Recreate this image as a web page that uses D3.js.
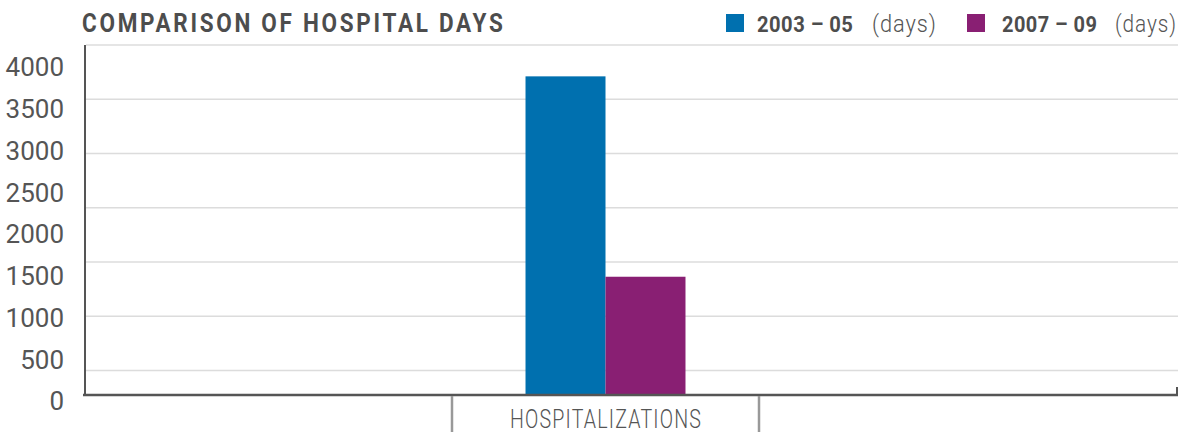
<!DOCTYPE html>
<html>
<head>
<meta charset="utf-8">
<script src="https://cdn.jsdelivr.net/npm/d3@7"></script>
<style>
  html, body { margin: 0; padding: 0; background: #fff; }
  svg { display: block; }
  text { font-family: Roboto, "Liberation Sans", sans-serif; }
</style>
</head>
<body>
<svg id="chart" width="1183" height="432"></svg>
<script>
// ---- data ----
const categories = ["HOSPITALIZATIONS"];
const seriesNames = ["2003 – 05", "2007 – 09"];
const seriesUnits = ["(days)", "(days)"];
const seriesColors = ["#0070af", "#891f73"];
const values2003_05 = [3880];
const values2007_09 = [1440];
const yTickValues = [0, 500, 1000, 1500, 2000, 2500, 3000, 3500, 4000];
const gridSteps = [0, 1, 2, 3, 4, 5, 6];
const titleText = "COMPARISON OF HOSPITAL DAYS";

const seriesValues = [values2003_05, values2007_09];

const svg = d3.select("#chart");

// condensed text helper: place text at (x, y), letter-spaced, squeezed horizontally to width w
function condensedText(parent, x, yPos, w, opts, str) {
  const g = parent.append("g");
  const t = g.append("text")
    .attr("x", 0).attr("y", 0)
    .attr("font-size", opts.size)
    .attr("font-weight", opts.weight)
    .attr("fill", opts.fill)
    .attr("letter-spacing", opts.spacing || 0)
    .text(str);
  const bb = t.node().getBBox();
  const trail = opts.spacing || 0;
  const natural = bb.width - trail;
  const sx = w / natural;
  g.attr("transform", `translate(${x - bb.x * sx},${yPos}) scale(${sx},1)`);
  return g;
}

// ---- scales ----
const plotLeft = 85, plotRight = 1178, plotTop = 45, baseY = 395;
const y = d3.scaleLinear().domain([0, 4000]).range([baseY, 66.5]);
const yLabel = d3.scaleLinear().domain([0, 4000]).range([400.5, 66.5]);
const grid = d3.scaleLinear().domain([0, 6]).range([plotTop, 370.5]);
const x0 = d3.scaleBand().domain(categories).range([452, 759]).padding(0);
const x1 = d3.scaleBand().domain(seriesNames).range([0, x0.bandwidth()])
  .paddingInner(0).paddingOuter(0.919);

// ---- gridlines ----
svg.append("g").selectAll("line").data(gridSteps).join("line")
  .attr("x1", plotLeft + 1).attr("x2", plotRight)
  .attr("y1", d => grid(d)).attr("y2", d => grid(d))
  .attr("stroke", "#dcdcdc").attr("stroke-width", 1.5);

// ---- bars ----
const gBars = svg.append("g");
categories.forEach((c, ci) => {
  gBars.selectAll(null).data(seriesNames).join("rect")
    .attr("x", s => x0(c) + x1(s))
    .attr("width", x1.bandwidth())
    .attr("y", (s, si) => y(seriesValues[si][ci]))
    .attr("height", (s, si) => y(0) - y(seriesValues[si][ci]))
    .attr("fill", (s, si) => seriesColors[si]);
});

// ---- y axis labels ----
const yAxis = d3.axisLeft(yLabel).tickValues(yTickValues).tickSize(0).tickPadding(0)
  .tickFormat(d3.format("d"));
const gy = svg.append("g").attr("transform", "translate(64,0)").call(yAxis);
gy.select(".domain").remove();
gy.selectAll("text")
  .attr("font-family", "Roboto, sans-serif")
  .attr("font-size", 26)
  .attr("fill", "#555")
  .attr("dy", "0.36em");

// ---- axis lines ----
svg.append("line")
  .attr("x1", plotLeft).attr("x2", plotLeft)
  .attr("y1", plotTop).attr("y2", baseY + 1)
  .attr("stroke", "#555").attr("stroke-width", 2);
svg.append("line")
  .attr("x1", 83).attr("x2", plotRight)
  .attr("y1", baseY).attr("y2", baseY)
  .attr("stroke", "#555").attr("stroke-width", 2.5);
svg.append("line")
  .attr("x1", plotRight - 1).attr("x2", plotRight - 1)
  .attr("y1", baseY - 8).attr("y2", baseY + 1)
  .attr("stroke", "#555").attr("stroke-width", 2);

// ---- category ticks ----
const catEdges = [];
categories.forEach(c => { catEdges.push(x0(c), x0(c) + x0.bandwidth()); });
svg.append("g").selectAll("line").data(catEdges).join("line")
  .attr("x1", d => d).attr("x2", d => d)
  .attr("y1", baseY + 1).attr("y2", 432)
  .attr("stroke", "#999").attr("stroke-width", 2.5);

categories.forEach(c => {
  condensedText(svg, x0(c) + x0.bandwidth() / 2 - 95.5, 427.5, 191,
    { size: 25, weight: 300, fill: "#555", spacing: 1.5 }, c);
});

// ---- title ----
condensedText(svg, 82, 32, 421,
  { size: 25, weight: 700, fill: "#4d4d4d", spacing: 3 }, titleText);

// ---- legend ----
const legendSquareX = [726, 967];
const legendNameX = [757, 1002];
const legendNameW = [96, 95];
const legendUnitX = [872, 1115];
const legendUnitW = [64, 61];
const gl = svg.append("g");
seriesNames.forEach((s, i) => {
  gl.append("rect").attr("x", legendSquareX[i]).attr("y", 14)
    .attr("width", 18).attr("height", 18).attr("fill", seriesColors[i]);
  condensedText(gl, legendNameX[i], 32, legendNameW[i],
    { size: 22, weight: 700, fill: "#4d4d4d", spacing: 0.5 }, s);
  condensedText(gl, legendUnitX[i], 32, legendUnitW[i],
    { size: 23, weight: 300, fill: "#555", spacing: 1 }, seriesUnits[i]);
});
</script>
</body>
</html>
